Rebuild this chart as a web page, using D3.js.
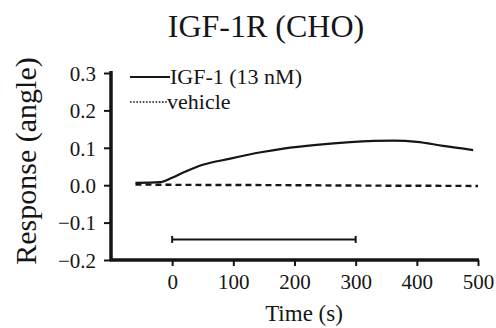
<!DOCTYPE html>
<html>
<head>
<meta charset="utf-8">
<script src="https://cdn.jsdelivr.net/npm/d3@7"></script>
<style>
  body { margin: 0; background: #fff; }
</style>
</head>
<body>
<svg id="chart" width="496" height="328"></svg>
<script>
// values
const igfTime = [-60, -20, 0, 20, 45, 95, 145, 182, 236, 291, 362, 400, 443, 492];
const igfResp = [0.006, 0.008, 0.02, 0.035, 0.052, 0.071, 0.088, 0.098, 0.108, 0.115, 0.119, 0.116, 0.105, 0.094];
const vehTime = [-60, 0, 100, 200, 300, 400, 500];
const vehResp = [0.002, 0.001, 0.0005, 0, -0.001, -0.0015, -0.002];
const barTime = [0, 300];
const barResp = -0.145;
const xTicks = [0, 100, 200, 300, 400, 500];
const yTicks = [0.3, 0.2, 0.1, 0.0, -0.1, -0.2];
const legendLabels = ['IGF-1 (13 nM)', 'vehicle'];

const FONT = '"Liberation Serif", "Times New Roman", Times, serif';
const INK = '#151515';

const svg = d3.select('#chart');

const x = d3.scaleLinear().domain([-100, 500]).range([111, 478]);
const y = d3.scaleLinear().domain([-0.2, 0.3]).range([260, 73]);

// title
svg.append('text')
  .attr('x', 266).attr('y', 37)
  .attr('text-anchor', 'middle')
  .attr('font-family', FONT)
  .attr('font-size', 32)
  .attr('fill', INK)
  .text('IGF-1R (CHO)');

// x axis
const xAxis = svg.append('g')
  .attr('transform', `translate(0,${y(-0.2)})`)
  .call(d3.axisBottom(x).tickValues(xTicks).tickSize(6).tickSizeOuter(0).tickFormat(d3.format('d')))
  .attr('font-family', FONT)
  .attr('font-size', 21);
xAxis.select('.domain').attr('stroke', INK).attr('stroke-width', 3.5)
  .attr('d', `M${x(-100) - 1},0H${x(500) + 1}`);
xAxis.selectAll('.tick line').attr('stroke', INK).attr('stroke-width', 2);
xAxis.selectAll('.tick text')
  .attr('y', 29).attr('dy', null)
  .attr('fill', INK);

// y axis
const yAxis = svg.append('g')
  .attr('transform', `translate(${x(-100)},0)`)
  .call(d3.axisLeft(y).tickValues(yTicks).tickSize(7).tickSizeOuter(0).tickFormat(d3.format('.1f')))
  .attr('font-family', FONT)
  .attr('font-size', 21);
yAxis.select('.domain').attr('stroke', INK).attr('stroke-width', 3.5)
  .attr('d', `M0,${y(0.3) - 2}V${y(-0.2) + 1}`);
yAxis.selectAll('.tick line').attr('stroke', INK).attr('stroke-width', 2);
yAxis.selectAll('.tick text')
  .attr('x', -15).attr('dy', '0.35em')
  .attr('fill', INK);

// axis labels
svg.append('text')
  .attr('x', 304).attr('y', 321)
  .attr('text-anchor', 'middle')
  .attr('font-family', FONT)
  .attr('font-size', 23)
  .attr('fill', INK)
  .text('Time (s)');

svg.append('text')
  .attr('transform', 'translate(36,161) rotate(-90)')
  .attr('text-anchor', 'middle')
  .attr('font-family', FONT)
  .attr('font-size', 30)
  .attr('fill', INK)
  .text('Response (angle)');

const line = d3.line()
  .x((d) => x(d[0]))
  .y((d) => y(d[1]))
  .curve(d3.curveMonotoneX);

// vehicle (dashed)
svg.append('path')
  .datum(d3.zip(vehTime, vehResp))
  .attr('d', line)
  .attr('fill', 'none')
  .attr('stroke', INK)
  .attr('stroke-width', 2.4)
  .attr('stroke-dasharray', '6,4');

// IGF-1 (solid)
svg.append('path')
  .datum(d3.zip(igfTime, igfResp))
  .attr('d', line)
  .attr('fill', 'none')
  .attr('stroke', INK)
  .attr('stroke-width', 2.2);

// application bar
const bar = svg.append('g').attr('stroke', INK).attr('stroke-width', 2);
bar.append('line')
  .attr('x1', x(barTime[0])).attr('x2', x(barTime[1]))
  .attr('y1', y(barResp)).attr('y2', y(barResp));
barTime.forEach((t) => {
  bar.append('line')
    .attr('x1', x(t)).attr('x2', x(t))
    .attr('y1', y(barResp) - 3.5).attr('y2', y(barResp) + 3.5);
});

// legend
const legend = svg.append('g');
const legendRows = [
  { label: legendLabels[0], dash: null, y: 77, x2: 170 },
  { label: legendLabels[1], dash: '1.6,1.6', y: 102, x2: 167 },
];
legendRows.forEach((row) => {
  legend.append('line')
    .attr('x1', 130).attr('x2', row.x2)
    .attr('y1', row.y).attr('y2', row.y)
    .attr('stroke', INK)
    .attr('stroke-width', row.dash ? 1.6 : 2)
    .attr('stroke-dasharray', row.dash);
  legend.append('text')
    .attr('x', row.x2).attr('y', row.y + 7)
    .attr('font-family', FONT)
    .attr('font-size', 22)
    .attr('fill', INK)
    .text(row.label);
});
</script>
</body>
</html>
